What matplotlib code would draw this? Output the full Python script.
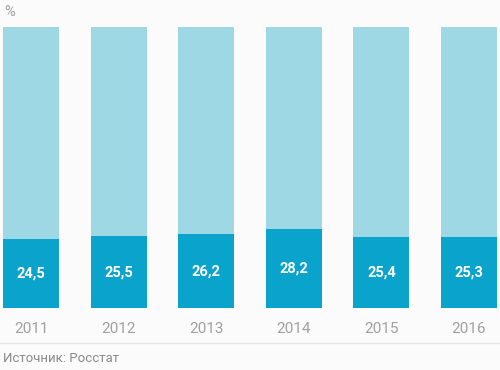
import matplotlib
matplotlib.use("Agg")
import matplotlib.pyplot as plt
import numpy as np

years = ["2011", "2012", "2013", "2014", "2015", "2016"]
share = [24.5, 25.5, 26.2, 28.2, 25.4, 25.3]
labels = ["24,5", "25,5", "26,2", "28,2", "25,4", "25,3"]

LIGHT = "#9ed8e4"
DARK = "#0aa3cc"
BG = "#fbfbfb"

plt.rcParams["font.family"] = ["Roboto", "DejaVu Sans"]

fig = plt.figure(figsize=(5, 3.7), dpi=100, facecolor=BG)
ax = fig.add_axes([0, 62 / 370, 1, 281 / 370])
ax.set_facecolor(BG)

x = np.arange(len(years))
rest = [100 - v for v in share]
ax.bar(x, share, width=0.64, color=DARK)
ax.bar(x, rest, bottom=share, width=0.64, color=LIGHT)

for xi, v, lab in zip(x, share, labels):
    ax.text(xi, v / 2, lab, ha="center", va="center", color="white",
            fontsize=10.5, fontweight="bold")

ax.set_xlim(-0.354, 5.354)
ax.set_ylim(0, 100)
ax.set_xticks(x)
ax.set_xticklabels(years, fontsize=11, color="#a0a0a0")
ax.tick_params(axis="x", length=0, pad=10)
ax.set_yticks([])
for s in ax.spines.values():
    s.set_visible(False)

fig.text(4 / 500, 1 - 12 / 370, "%", fontsize=10.5, color="#a0a0a0", va="center")
fig.add_artist(plt.Line2D([0, 1], [1 - 343 / 370] * 2, color="#e6e6e6", lw=1))
fig.text(3 / 500, 1 - 358 / 370, "Источник: Росстат", fontsize=9.5,
         color="#8a8a8a", va="center")

fig.savefig("out.png", dpi=100, facecolor=BG)
